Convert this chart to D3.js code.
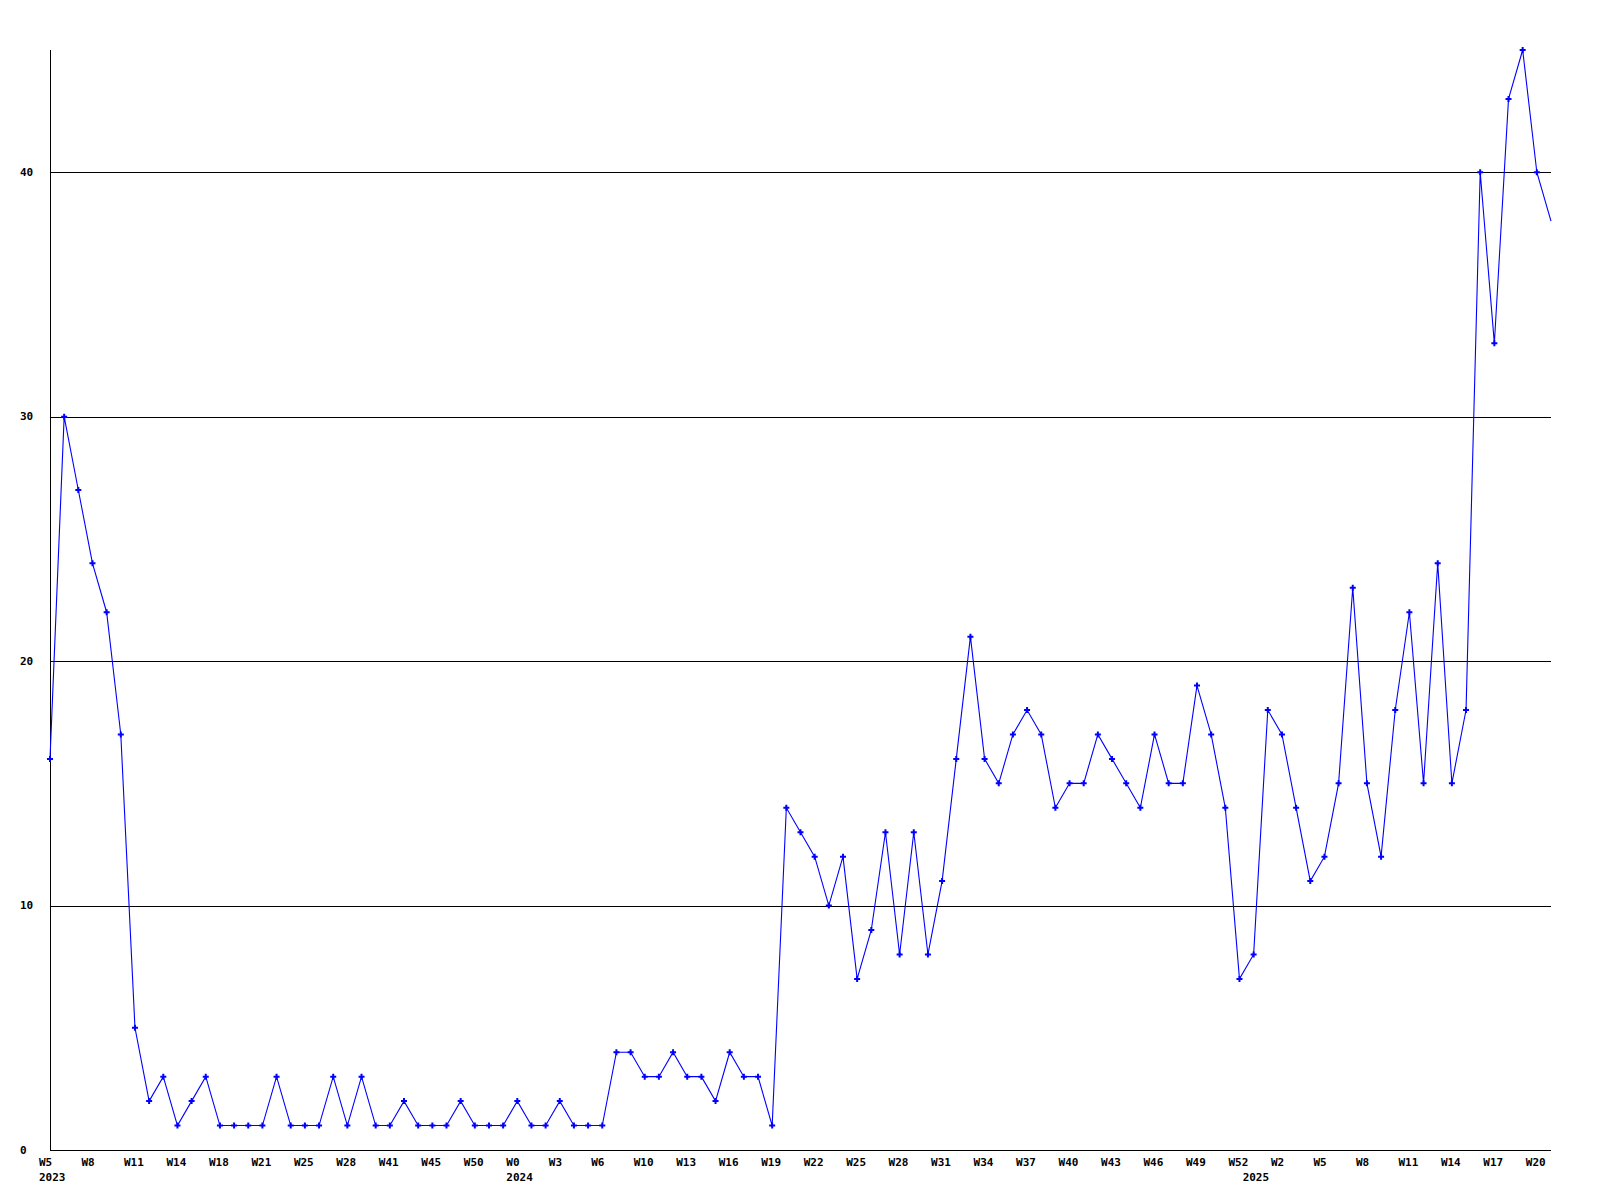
<!DOCTYPE html>
<html>
<head>
<meta charset="utf-8">
<script src="https://cdn.jsdelivr.net/npm/d3@7/dist/d3.min.js"></script>
<style>
  html, body { margin: 0; padding: 0; background: #ffffff; }
  svg { display: block; }
  text { font-family: "DejaVu Sans Mono", "Liberation Mono", monospace; font-weight: bold; font-size: 11px; fill: #000; }
</style>
</head>
<body>
<svg id="chart" width="1600" height="1200"></svg>
<script>
// ---- data ----
const values = [
  16, 30, 27, 24, 22, 17, 5, 2, 3, 1,
  2, 3, 1, 1, 1, 1, 3, 1, 1, 1,
  3, 1, 3, 1, 1, 2, 1, 1, 1, 2,
  1, 1, 1, 2, 1, 1, 2, 1, 1, 1,
  4, 4, 3, 3, 4, 3, 3, 2, 4, 3,
  3, 1, 14, 13, 12, 10, 12, 7, 9, 13,
  8, 13, 8, 11, 16, 21, 16, 15, 17, 18,
  17, 14, 15, 15, 17, 16, 15, 14, 17, 15,
  15, 19, 17, 14, 7, 8, 18, 17, 14, 11,
  12, 15, 23, 15, 12, 18, 22, 15, 24, 15,
  18, 40, 33, 43, 45, 40, 38
];
const weekLabels = [
  "W5", "W8", "W11", "W14", "W18", "W21", "W25", "W28", "W41", "W45", "W50", "W0",
  "W3", "W6", "W10", "W13", "W16", "W19", "W22", "W25", "W28", "W31", "W34", "W37",
  "W40", "W43", "W46", "W49", "W52", "W2", "W5", "W8", "W11", "W14", "W17", "W20"
];
const weekLabelStep = 3;
const yearLabels = ["2023", "2024", "2025"];
const yearStartIndex = [0, 33, 85];
const yTicks = [0, 10, 20, 30, 40];
const yMax = 45;

(function () {
  // ---- layout ----
  const plotLeft = 50, plotRight = 1551, plotTop = 50, plotBottom = 1150;
  const svg = d3.select("#chart");

  const x = d3.scaleLinear().domain([0, values.length - 1]).range([plotLeft, plotRight]);
  const y = d3.scaleLinear().domain([0, yMax]).range([plotBottom, plotTop]);

  // gridlines
  svg.append("g")
    .selectAll("line")
    .data(yTicks.filter(d => d > 0))
    .join("line")
    .attr("x1", plotLeft).attr("x2", plotRight)
    .attr("y1", d => Math.round(y(d)) + 0.5)
    .attr("y2", d => Math.round(y(d)) + 0.5)
    .attr("stroke", "#000").attr("stroke-width", 1)
    .attr("shape-rendering", "crispEdges");

  // y axis line + x axis line
  svg.append("line")
    .attr("x1", plotLeft + 0.5).attr("x2", plotLeft + 0.5)
    .attr("y1", plotTop).attr("y2", plotBottom + 0.5)
    .attr("stroke", "#000").attr("shape-rendering", "crispEdges");
  svg.append("line")
    .attr("x1", plotLeft).attr("x2", plotRight)
    .attr("y1", plotBottom + 0.5).attr("y2", plotBottom + 0.5)
    .attr("stroke", "#000").attr("shape-rendering", "crispEdges");

  // y labels
  svg.append("g")
    .selectAll("text")
    .data(yTicks)
    .join("text")
    .attr("x", 20)
    .attr("y", d => y(d) + 3.5)
    .text(d => d);

  // x week labels
  svg.append("g")
    .selectAll("text")
    .data(weekLabels)
    .join("text")
    .attr("x", (d, i) => x(i * weekLabelStep) - 11)
    .attr("y", 1166)
    .text(d => d);

  // year labels
  svg.append("g")
    .selectAll("text")
    .data(yearLabels)
    .join("text")
    .attr("x", (d, i) => x(yearStartIndex[i]) - 11)
    .attr("y", 1181)
    .text(d => d);

  // series line
  const line = d3.line()
    .x((d, i) => x(i))
    .y(d => y(d));

  svg.append("path")
    .datum(values)
    .attr("d", line)
    .attr("fill", "none")
    .attr("stroke", "#0000ff")
    .attr("stroke-width", 1.1);

  // markers (the last point has none in the reference)
  const cross = d3.symbol().type(d3.symbolCross).size(20);
  svg.append("g")
    .selectAll("path")
    .data(values.slice(0, values.length - 1))
    .join("path")
    .attr("transform", (d, i) => `translate(${x(i)},${y(d)})`)
    .attr("d", cross)
    .attr("fill", "#0000ff");
})();
</script>
</body>
</html>
